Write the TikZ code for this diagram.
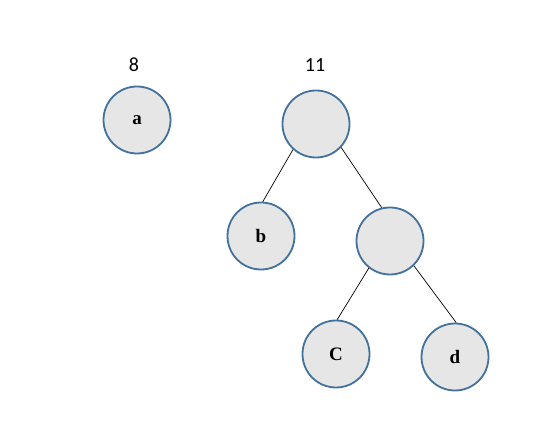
\documentclass[tikz,border=0pt]{standalone}
\usepackage{fontspec}
\newfontfamily\numfont{Carlito}
\newfontfamily\letfont{Liberation Serif}
\usetikzlibrary{positioning}
\definecolor{ringblue}{RGB}{65,113,156}
\definecolor{ringfill}{RGB}{230,230,230}

\begin{document}
\begin{tikzpicture}
                [%%%%%%%%%%%%%%%%%%%%%%%%%%%%%%%%%%%%%%%%%%%%%%%%%%%%%%%%%%
                    x=1pt,y=-1pt,node distance=8pt,
                    tree/.style={circle,draw=ringblue,fill=ringfill,line width=1.8pt,
                                 inner sep=0pt,minimum size=67pt,
                                 font=\letfont\bfseries\fontsize{19}{21}\selectfont},
                    weight/.style={font=\numfont\fontsize{20}{22}\selectfont,inner sep=0pt},
                    edge/.style={black,line width=0.7pt}
                ]%%%%%%%%%%%%%%%%%%%%%%%%%%%%%%%%%%%%%%%%%%%%%%%%%%%%%%%%%%
                \useasboundingbox (0,0) rectangle (547,427);
                \node[tree] (a) at (137,120) {a};
                \node[tree] (root) at (316,124) {};
                \node[tree] (b) at (261,236) {b};
                \node[tree] (inner) at (390,241) {};
                \node[tree] (c) at (336,354) {C};
                \node[tree] (d) at (455,357) {d};

                \node[weight] (w8) at (134,65) {8};
                \node[weight] (w11) at (315,65) {11};

                \draw[edge] (root.228) -- (b.87);
                \draw[edge] (root.317) -- (inner.104);
                \draw[edge] (inner.232) -- (c.88);
                \draw[edge] (inner.314) -- (d.88);
            \end{tikzpicture}
\end{document}
